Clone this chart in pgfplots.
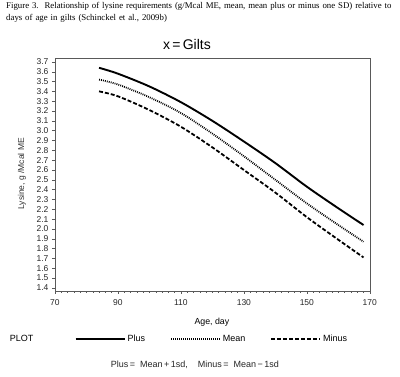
\documentclass[border=0pt]{standalone}
\usepackage{pgfplots}
\pgfplotsset{compat=1.18}
\usepackage{fontspec}
\setmainfont{Liberation Sans}
\newfontfamily\seriffont{Liberation Serif}
\begin{document}
\begin{tikzpicture}[x=1pt,y=1pt]
\path (0,0) rectangle (400,377);
\node[anchor=north west, inner sep=0pt, font=\seriffont\fontsize{8.8}{12.5}\selectfont, text width=394pt, align=left] at (6,375)
  {Figure 3.\ \ Relationship of lysine requirements (g/Mcal ME, mean, mean plus or minus one SD) relative to\\days of age in gilts (Schinckel et al., 2009b)};
\node[font=\fontsize{14}{16}\selectfont] at (187,332) {x\,=\,Gilts};
\node[font=\fontsize{8.8}{10}\selectfont] at (212,55) {Age,\ day};
\node[font=\fontsize{8.5}{10}\selectfont, rotate=90, text=black!80] at (22,203) {Lysine,\ g /Mcal ME};
\node[font=\fontsize{9}{10}\selectfont, text=black!85] at (195,12) {Plus\,=\ \ Mean\,+\,1sd,\ \ \ \ Minus\,=\ \ Mean\,−\,1sd};
\begin{axis}[
  at={(55pt,86pt)}, anchor=south west,
  scale only axis, width=315pt, height=233pt,
  xmin=70, xmax=170, ymin=1.37, ymax=3.74,
  xtick={70,90,110,130,150,170},
  minor x tick num=9,
  ytick={1.4,1.5,1.6,1.7,1.8,1.9,2.0,2.1,2.2,2.3,2.4,2.5,2.6,2.7,2.8,2.9,3.0,3.1,3.2,3.3,3.4,3.5,3.6,3.7},
  yticklabel style={/pgf/number format/.cd, fixed, fixed zerofill, precision=1},
  /pgf/number format/assume math mode=true,
  tick align=outside, xtick pos=bottom, ytick pos=left,
  major tick length=3pt, minor tick length=2pt,
  axis line style={black!65},
  every tick/.style={black!65},
  ticklabel style={font=\fontsize{8.5}{9}\selectfont, text=black!85},
  xticklabel style={yshift=-2pt},
  legend style={at={(axis description cs:-0.16,-0.206)}, anchor=west, draw=none, fill=none,
    font=\fontsize{9}{10}\selectfont, legend columns=4, legend cell align=left,
    /tikz/every even column/.append style={column sep=23pt}},
  legend image code/.code={\draw[#1] (0pt,0pt) -- (49pt,0pt);},
]
\addlegendimage{empty legend}
\addlegendentry{\makebox[40pt][l]{PLOT}}
\addplot[black, line width=1.9pt, smooth] coordinates {
(84,3.64) (90,3.58) (100,3.45) (110,3.29) (120,3.10) (130,2.89) (140,2.67) (150,2.43) (160,2.21) (168,2.04)};
\addlegendentry{Plus}
\addplot[black, line width=1.8pt, dash pattern=on 0.9pt off 1.1pt, smooth] coordinates {
(84,3.52) (90,3.47) (100,3.34) (110,3.18) (120,2.97) (130,2.74) (140,2.50) (150,2.26) (160,2.04) (168,1.87)};
\addlegendentry{Mean}
\addplot[black, line width=1.8pt, dash pattern=on 4pt off 2pt, smooth] coordinates {
(84,3.40) (90,3.35) (100,3.21) (110,3.04) (120,2.83) (130,2.60) (140,2.37) (150,2.12) (160,1.89) (168,1.71)};
\addlegendentry{Minus}
\end{axis}
\end{tikzpicture}
\end{document}
